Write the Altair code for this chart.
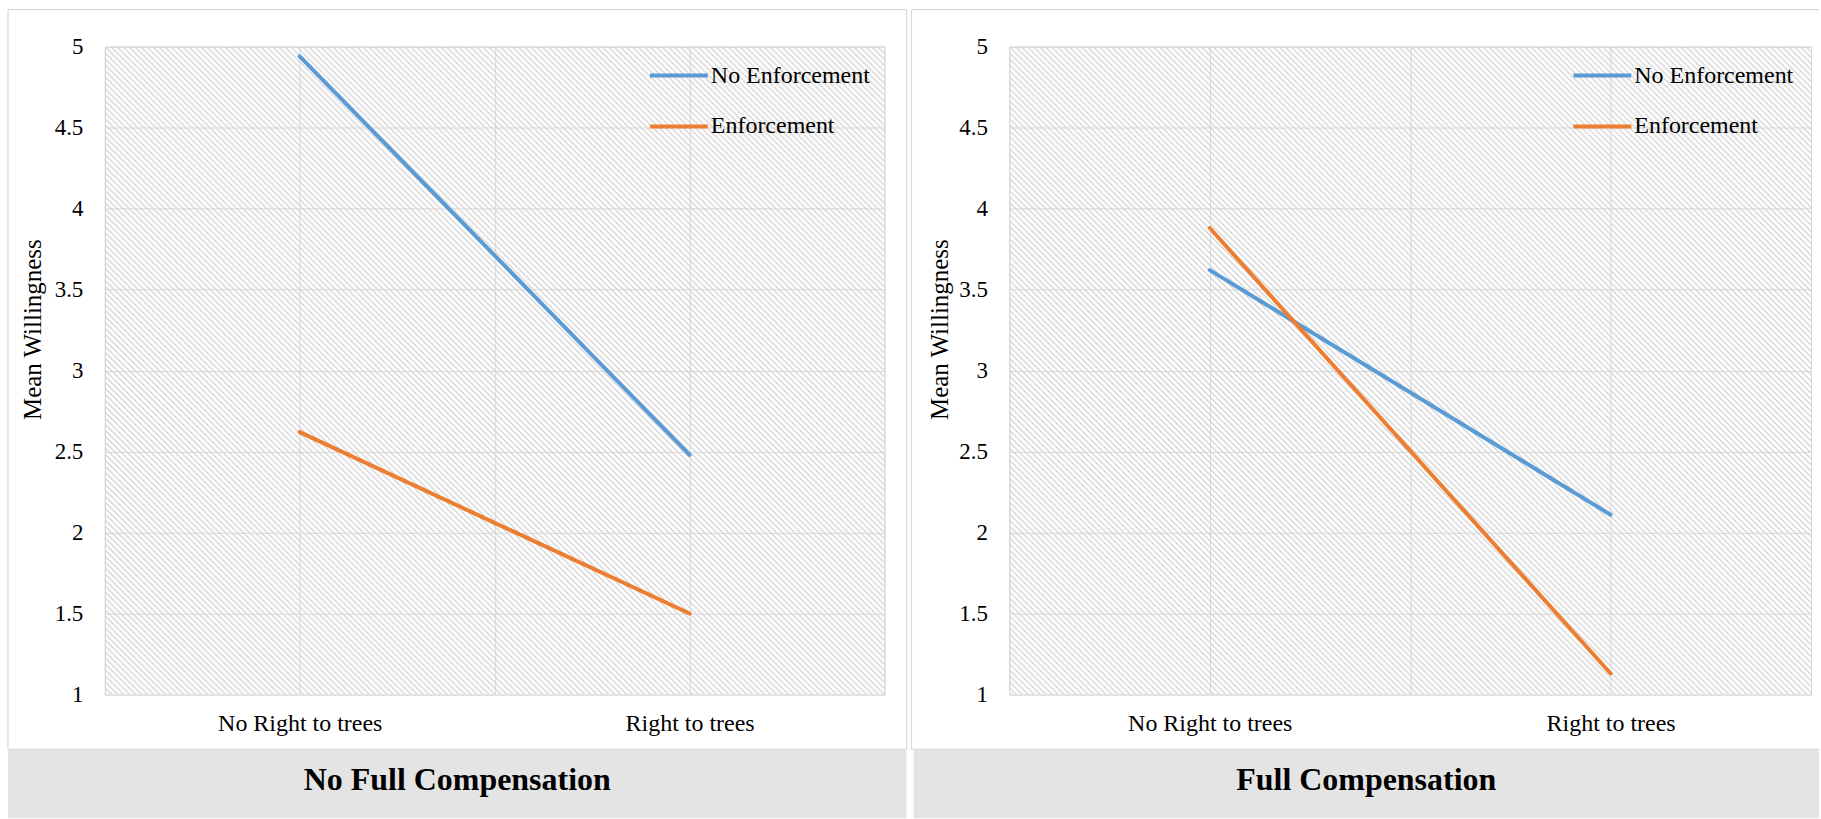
import base64

import altair as alt
import pandas as pd

# ---- data -------------------------------------------------------------
categories = ["No Right to trees", "Right to trees"]
series = ["No Enforcement", "Enforcement"]
series_colors = ["#5B9BD5", "#ED7D31"]
y_ticks = [1, 1.5, 2, 2.5, 3, 3.5, 4, 4.5, 5]

panel_titles = ["No Full Compensation", "Full Compensation"]
no_comp_no_enforcement = [4.94, 2.48]
no_comp_enforcement = [2.62, 1.50]
full_comp_no_enforcement = [3.62, 2.11]
full_comp_enforcement = [3.88, 1.13]

FONT = "Liberation Serif"
GRID = "#d9d9d9"
PLOT_H = 649


def hatch_uri(w, h):
    """Diagonal hatch texture used as the plot-area fill."""
    svg = (
        f'<svg xmlns="http://www.w3.org/2000/svg" width="{w}" height="{h}" '
        f'viewBox="0 0 {w} {h}">'
        '<defs><pattern id="p" width="6" height="6" patternUnits="userSpaceOnUse">'
        '<path d="M-1,5 L1,7 M0,0 L6,6 M5,-1 L7,1" stroke="#d2d2d2" '
        'stroke-width="1.3"/></pattern></defs>'
        '<rect width="100%" height="100%" fill="url(#p)"/></svg>'
    )
    return "data:image/svg+xml;base64," + base64.b64encode(svg.encode()).decode()


def panel(title, no_enf, enf, width, frame, box, ytitle_x, legend_xy, right_border):
    rows = []
    for s, vals in zip(series, [no_enf, enf]):
        for i, (c, v) in enumerate(zip(categories, vals)):
            rows.append({"condition": c, "pos": i + 0.5, "series": s, "willingness": v})
    df = pd.DataFrame(rows)
    one = pd.DataFrame({"k": [0]})

    n = len(categories)
    x_grid = [k / 2 for k in range(2 * n + 1)]
    label_expr = " : ".join(
        f"datum.value == {i + 0.5} ? '{c}'" for i, c in enumerate(categories)
    ) + " : ''"

    lines = alt.Chart(df).mark_line(strokeWidth=4, strokeCap="round").encode(
        x=alt.X(
            "pos:Q",
            scale=alt.Scale(domain=[0, n], nice=False, zero=False),
            axis=alt.Axis(
                values=x_grid, labelExpr=label_expr, title=None, ticks=False,
                domain=False, grid=True, gridColor=GRID, gridWidth=1,
                labelFont=FONT, labelFontSize=24, labelColor="black",
                labelPadding=17, labelLimit=400, labelOverlap=False,
                labelFlush=False,
            ),
        ),
        y=alt.Y(
            "willingness:Q",
            scale=alt.Scale(domain=[1, 5], nice=False, zero=False),
            axis=alt.Axis(
                values=y_ticks, format="~g", title="Mean Willingness",
                titleFont=FONT, titleFontSize=25, titleFontWeight="normal",
                titleColor="black", titleX=ytitle_x, titleY=283, titleAngle=270,
                titleAlign="center", titleBaseline="middle",
                labelFont=FONT, labelFontSize=23, labelColor="black",
                labelPadding=22, ticks=False, domain=False,
                grid=True, gridColor=GRID, gridWidth=1,
            ),
        ),
        color=alt.Color(
            "series:N",
            scale=alt.Scale(domain=series, range=series_colors),
            legend=alt.Legend(
                title=None, orient="none", legendX=legend_xy[0], legendY=legend_xy[1],
                symbolType="stroke", symbolSize=3364, symbolStrokeWidth=4,
                labelFont=FONT, labelFontSize=24, labelColor="black",
                labelLimit=400, labelOffset=1, rowPadding=8, padding=0,
            ),
        ),
    )

    hatch = alt.Chart(one).mark_image(
        width=width, height=PLOT_H, align="left", baseline="top", aspect=False
    ).encode(x=alt.value(0), y=alt.value(0), url=alt.value(hatch_uri(width, PLOT_H)))

    fl, fr, ft, fb = frame
    edges = [
        (fl, fr, ft, ft),
        (fl, fl, ft, fb),
        (fl, fr, fb, fb),
    ]
    if right_border:
        edges.append((fr, fr, ft, fb))
    frame_layers = [
        alt.Chart(one).mark_rule(color=GRID, strokeWidth=1.25).encode(
            x=alt.value(a), x2=alt.value(b), y=alt.value(c), y2=alt.value(d)
        )
        for a, b, c, d in edges
    ]

    bl, br, bt, bb = box
    title_box = alt.Chart(one).mark_rect(color="#e4e4e4").encode(
        x=alt.value(bl), x2=alt.value(br), y=alt.value(bt), y2=alt.value(bb)
    )
    title_text = alt.Chart(one).mark_text(
        font=FONT, fontSize=32, fontWeight="bold", color="black",
        align="center", baseline="middle",
    ).encode(
        x=alt.value((bl + br) / 2), y=alt.value(bt + 31),
        text=alt.value(title),
    )

    return alt.layer(
        hatch, lines, title_box, *frame_layers, title_text
    ).properties(width=width, height=PLOT_H)


left = panel(
    panel_titles[0], no_comp_no_enforcement, no_comp_enforcement, 781,
    frame=(-97, 803, -37, 704), box=(-97, 803, 704, 773),
    ytitle_x=-72, legend_xy=(544, -2), right_border=True,
)
right = panel(
    panel_titles[1], full_comp_no_enforcement, full_comp_enforcement, 803,
    frame=(-98, 811, -37, 704), box=(-96, 811, 704, 773),
    ytitle_x=-70, legend_xy=(563, -2), right_border=False,
)

chart = (
    alt.hconcat(left, right, spacing=1)
    .resolve_scale(color="independent")
    .resolve_legend(color="independent")
    .properties(padding={"left": 6, "top": 7, "right": 0, "bottom": 0}, background="white")
    .configure_view(stroke=GRID, strokeWidth=1)
)

chart.save("out.html", embed_options={"renderer": "svg", "actions": False})
